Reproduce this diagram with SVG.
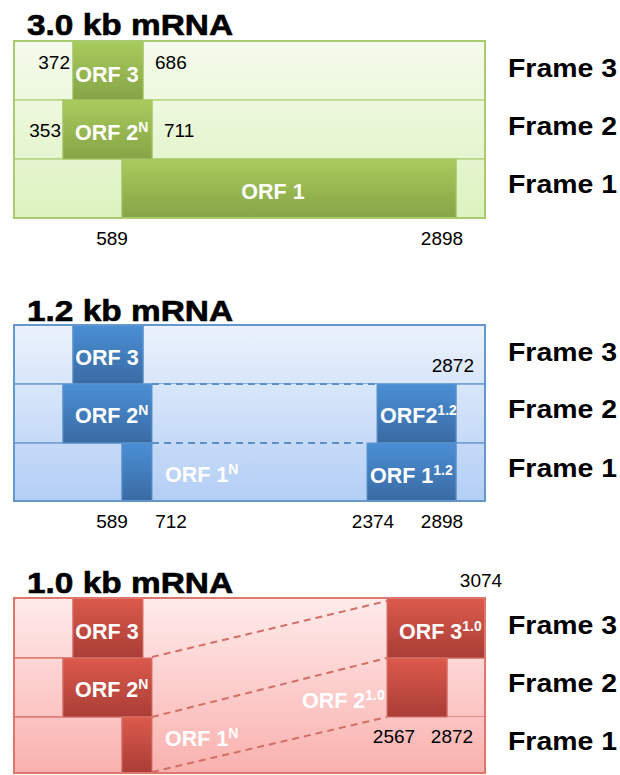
<svg xmlns="http://www.w3.org/2000/svg" width="620" height="775" viewBox="0 0 620 775">
<defs>
<linearGradient id="gDark" x1="0" y1="0" x2="0" y2="1"><stop offset="0" stop-color="#a9cb5d"/><stop offset="1" stop-color="#86a446"/></linearGradient>
<linearGradient id="gLight" gradientUnits="userSpaceOnUse" x1="0" y1="41" x2="0" y2="218"><stop offset="0" stop-color="#f5fbec"/><stop offset="1" stop-color="#ddf2bf"/></linearGradient>
<linearGradient id="bDark" x1="0" y1="0" x2="0" y2="1"><stop offset="0" stop-color="#4a8fd6"/><stop offset="1" stop-color="#3a6aa2"/></linearGradient>
<linearGradient id="bLight" gradientUnits="userSpaceOnUse" x1="0" y1="325" x2="0" y2="501"><stop offset="0" stop-color="#ebf2fc"/><stop offset="1" stop-color="#b3cef5"/></linearGradient>
<linearGradient id="rDark" x1="0" y1="0" x2="0" y2="1"><stop offset="0" stop-color="#dc5a4c"/><stop offset="1" stop-color="#a93d36"/></linearGradient>
<linearGradient id="rLight" gradientUnits="userSpaceOnUse" x1="0" y1="598" x2="0" y2="773"><stop offset="0" stop-color="#ffebeb"/><stop offset="1" stop-color="#f9b1ae"/></linearGradient>
</defs>
<style>
.title{font-family:"Liberation Sans",Arial,sans-serif;font-weight:bold;font-size:29px;fill:#000;stroke:#000;stroke-width:0.6}
.frame{font-family:"Liberation Sans",Arial,sans-serif;font-weight:bold;font-size:26px;fill:#000}
.num{font-family:"Liberation Sans",Arial,sans-serif;font-size:19px;fill:#000}
.orf{font-family:"Liberation Sans",Arial,sans-serif;font-weight:bold;font-size:21.5px;fill:#fff}
.sup{font-size:14px}
.gl{fill:url(#gLight);stroke:#b7d585;stroke-width:1.5}
.gd{fill:url(#gDark);stroke:#a3c467;stroke-width:1}
.bl{fill:url(#bLight);stroke:#6f9fd3;stroke-width:1.5}
.bd{fill:url(#bDark);stroke:#5f93cc;stroke-width:1}
.rl{fill:url(#rLight);stroke:#e07c74;stroke-width:1.5}
.rd{fill:url(#rDark);stroke:#d8756c;stroke-width:1}
.gbox{fill:none;stroke:#a9ca6e;stroke-width:2}
.bbox{fill:none;stroke:#6597cf;stroke-width:2}
.rbox{fill:none;stroke:#df766d;stroke-width:2}
.bdash{stroke:#5b8fc8;stroke-width:1.8;stroke-dasharray:7,5;fill:none}
.rdash{stroke:#d26e66;stroke-width:2;stroke-dasharray:7,5;fill:none}
</style>

<!-- Panel 1: 3.0 kb mRNA -->
<g id="panel-3kb">
<text class="title" x="27" y="35" textLength="206" lengthAdjust="spacingAndGlyphs">3.0 kb mRNA</text>
<g id="p1-frame3">
<rect class="gl" x="14" y="41" width="59" height="59"/>
<rect class="gl" x="143" y="41" width="342" height="59"/>
</g>
<g id="p1-frame2">
<rect class="gl" x="14" y="100" width="49" height="59"/>
<rect class="gl" x="152" y="100" width="333" height="59"/>
</g>
<g id="p1-frame1">
<rect class="gl" x="14" y="159" width="108" height="59"/>
<rect class="gl" x="456" y="159" width="29" height="59"/>
</g>
<g id="p1-orf3"><rect class="gd" x="73" y="41" width="70" height="59"/><text class="orf" x="107" y="82" text-anchor="middle">ORF 3</text></g>
<g id="p1-orf2n"><rect class="gd" x="63" y="100" width="89" height="59"/><text class="orf" x="75" y="140">ORF 2<tspan class="sup" dy="-8">N</tspan></text></g>
<g id="p1-orf1"><rect class="gd" x="122" y="159" width="334" height="59"/><text class="orf" x="273" y="199" text-anchor="middle">ORF 1</text></g>
<rect class="gbox" x="14" y="41" width="471" height="177"/>
<text class="num" x="70" y="69" text-anchor="end">372</text>
<text class="num" x="155" y="69">686</text>
<text class="num" x="61" y="137" text-anchor="end">353</text>
<text class="num" x="164" y="137">711</text>
<text class="num" x="112" y="245" text-anchor="middle">589</text>
<text class="num" x="442" y="245" text-anchor="middle">2898</text>
<text class="frame" x="508" y="77" textLength="109" lengthAdjust="spacingAndGlyphs">Frame 3</text>
<text class="frame" x="508" y="135" textLength="109" lengthAdjust="spacingAndGlyphs">Frame 2</text>
<text class="frame" x="508" y="193" textLength="109" lengthAdjust="spacingAndGlyphs">Frame 1</text>
</g>

<!-- Panel 2: 1.2 kb mRNA -->
<g id="panel-1-2kb">
<text class="title" x="27" y="321" textLength="206" lengthAdjust="spacingAndGlyphs">1.2 kb mRNA</text>
<g id="p2-frame3">
<rect class="bl" x="14" y="325" width="59" height="59"/>
<rect class="bl" x="143" y="325" width="342" height="59"/>
</g>
<g id="p2-frame2">
<rect class="bl" x="14" y="384" width="49" height="59"/>
<rect fill="url(#bLight)" x="152" y="384" width="225" height="59"/>
<rect class="bl" x="456" y="384" width="29" height="59"/>
</g>
<g id="p2-frame1">
<rect class="bl" x="14" y="443" width="108" height="58"/>
<rect fill="url(#bLight)" x="152" y="443" width="215" height="58"/>
<rect class="bl" x="456" y="443" width="29" height="58"/>
</g>
<g id="p2-orf3"><rect class="bd" x="73" y="325" width="70" height="59"/><text class="orf" x="107" y="365" text-anchor="middle">ORF 3</text></g>
<g id="p2-orf2n"><rect class="bd" x="63" y="384" width="89" height="59"/><text class="orf" x="75" y="423">ORF 2<tspan class="sup" dy="-8">N</tspan></text></g>
<g id="p2-orf1n"><rect class="bd" x="122" y="443" width="30" height="58"/><text class="orf" x="165" y="482">ORF 1<tspan class="sup" dy="-8">N</tspan></text></g>
<g id="p2-orf2-12"><rect class="bd" x="377" y="384" width="79" height="59"/><text class="orf" x="380" y="423">ORF2<tspan class="sup" dy="-8">1.2</tspan></text></g>
<g id="p2-orf1-12"><rect class="bd" x="367" y="443" width="89" height="58"/><text class="orf" x="370" y="483">ORF 1<tspan class="sup" dy="-8">1.2</tspan></text></g>
<rect class="bbox" x="14" y="325" width="471" height="176"/>
<text class="num" x="474" y="372" text-anchor="end">2872</text>
<text class="num" x="112" y="528" text-anchor="middle">589</text>
<text class="num" x="171" y="528" text-anchor="middle">712</text>
<text class="num" x="373" y="528" text-anchor="middle">2374</text>
<text class="num" x="442" y="528" text-anchor="middle">2898</text>
<text class="frame" x="508" y="361" textLength="109" lengthAdjust="spacingAndGlyphs">Frame 3</text>
<text class="frame" x="508" y="418" textLength="109" lengthAdjust="spacingAndGlyphs">Frame 2</text>
<text class="frame" x="508" y="477" textLength="109" lengthAdjust="spacingAndGlyphs">Frame 1</text>
</g>

<!-- Panel 3: 1.0 kb mRNA -->
<g id="panel-1-0kb">
<text class="title" x="27" y="593" textLength="206" lengthAdjust="spacingAndGlyphs">1.0 kb mRNA</text>
<g id="p3-frame3">
<rect class="rl" x="14" y="598" width="59" height="60"/>
<rect fill="url(#rLight)" x="143" y="598" width="244" height="60"/>
</g>
<g id="p3-frame2">
<rect class="rl" x="14" y="658" width="49" height="59"/>
<rect fill="url(#rLight)" x="152" y="658" width="235" height="59"/>
<rect class="rl" x="447" y="658" width="38" height="59"/>
</g>
<g id="p3-frame1">
<rect class="rl" x="14" y="717" width="108" height="56"/>
<rect fill="url(#rLight)" x="152" y="717" width="333" height="56"/>
</g>
<g id="p3-orf3"><rect class="rd" x="73" y="598" width="70" height="60"/><text class="orf" x="107" y="639" text-anchor="middle">ORF 3</text></g>
<g id="p3-orf2n"><rect class="rd" x="63" y="658" width="89" height="59"/><text class="orf" x="75" y="697">ORF 2<tspan class="sup" dy="-8">N</tspan></text></g>
<g id="p3-orf1n"><rect class="rd" x="122" y="717" width="30" height="56"/><text class="orf" x="165" y="746">ORF 1<tspan class="sup" dy="-8">N</tspan></text></g>
<g id="p3-orf3-10"><rect class="rd" x="387" y="598" width="98" height="60"/><text class="orf" x="399" y="639">ORF 3<tspan class="sup" dy="-8">1.0</tspan></text></g>
<g id="p3-orf2-10"><rect class="rd" x="387" y="658" width="60" height="59"/><text class="orf" x="302" y="708">ORF 2<tspan class="sup" dy="-8">1.0</tspan></text></g>
<rect class="rbox" x="14" y="598" width="471" height="175"/>
<text class="num" x="481" y="587" text-anchor="middle">3074</text>
<text class="num" x="394" y="743" text-anchor="middle">2567</text>
<text class="num" x="452" y="743" text-anchor="middle">2872</text>
<text class="frame" x="508" y="634" textLength="109" lengthAdjust="spacingAndGlyphs">Frame 3</text>
<text class="frame" x="508" y="692" textLength="109" lengthAdjust="spacingAndGlyphs">Frame 2</text>
<text class="frame" x="508" y="750" textLength="109" lengthAdjust="spacingAndGlyphs">Frame 1</text>
</g>

<!-- Connectors -->
<g id="connectors">
<line class="bdash" x1="152" y1="384" x2="377" y2="384"/>
<line class="bdash" x1="152" y1="443" x2="367" y2="443"/>
<line class="rdash" x1="152" y1="657" x2="387" y2="601"/>
<line class="rdash" x1="152" y1="717" x2="387" y2="658"/>
<line class="rdash" x1="152" y1="772" x2="387" y2="717"/>
</g>
</svg>
